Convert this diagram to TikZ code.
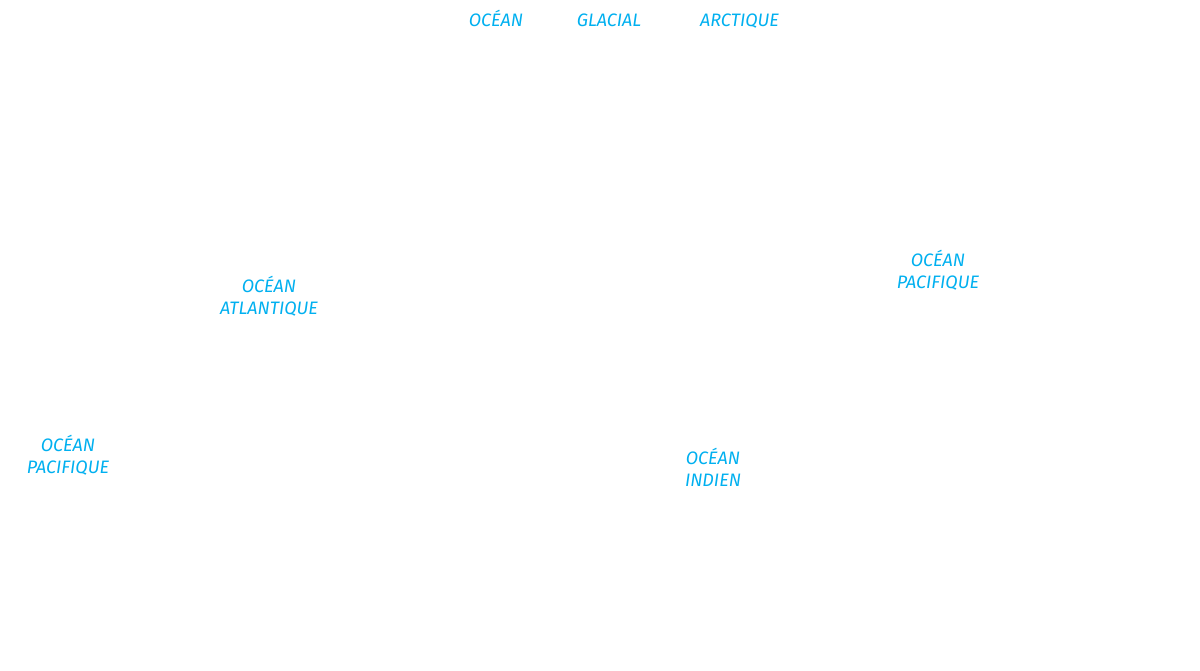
\documentclass[tikz,border=0pt]{standalone}
\usepackage{fontspec}
\setmainfont{Fira Sans}
\definecolor{oceanblue}{HTML}{00B0F0}
\begin{document}
\begin{tikzpicture}[x=1pt,y=-1pt,
  lbl/.style={text=oceanblue,font=\fontsize{18}{22}\selectfont\itshape,align=center,inner sep=0pt}]
\useasboundingbox[fill=white] (0,0) rectangle (1200,671);
\node[lbl,anchor=base] (o1) at (496,26.5) {OCÉAN};
\node[lbl,anchor=base] (o2) at (609,26.5) {GLACIAL};
\node[lbl,anchor=base] (o3) at (739.5,26.5) {ARCTIQUE};
\node[lbl] (atl) at (269,296) {OCÉAN\\ATLANTIQUE};
\node[lbl] (pacr) at (938,270) {OCÉAN\\PACIFIQUE};
\node[lbl] (pacl) at (68,455) {OCÉAN\\PACIFIQUE};
\node[lbl] (ind) at (713,467) {OCÉAN\\INDIEN};
\end{tikzpicture}
\end{document}
